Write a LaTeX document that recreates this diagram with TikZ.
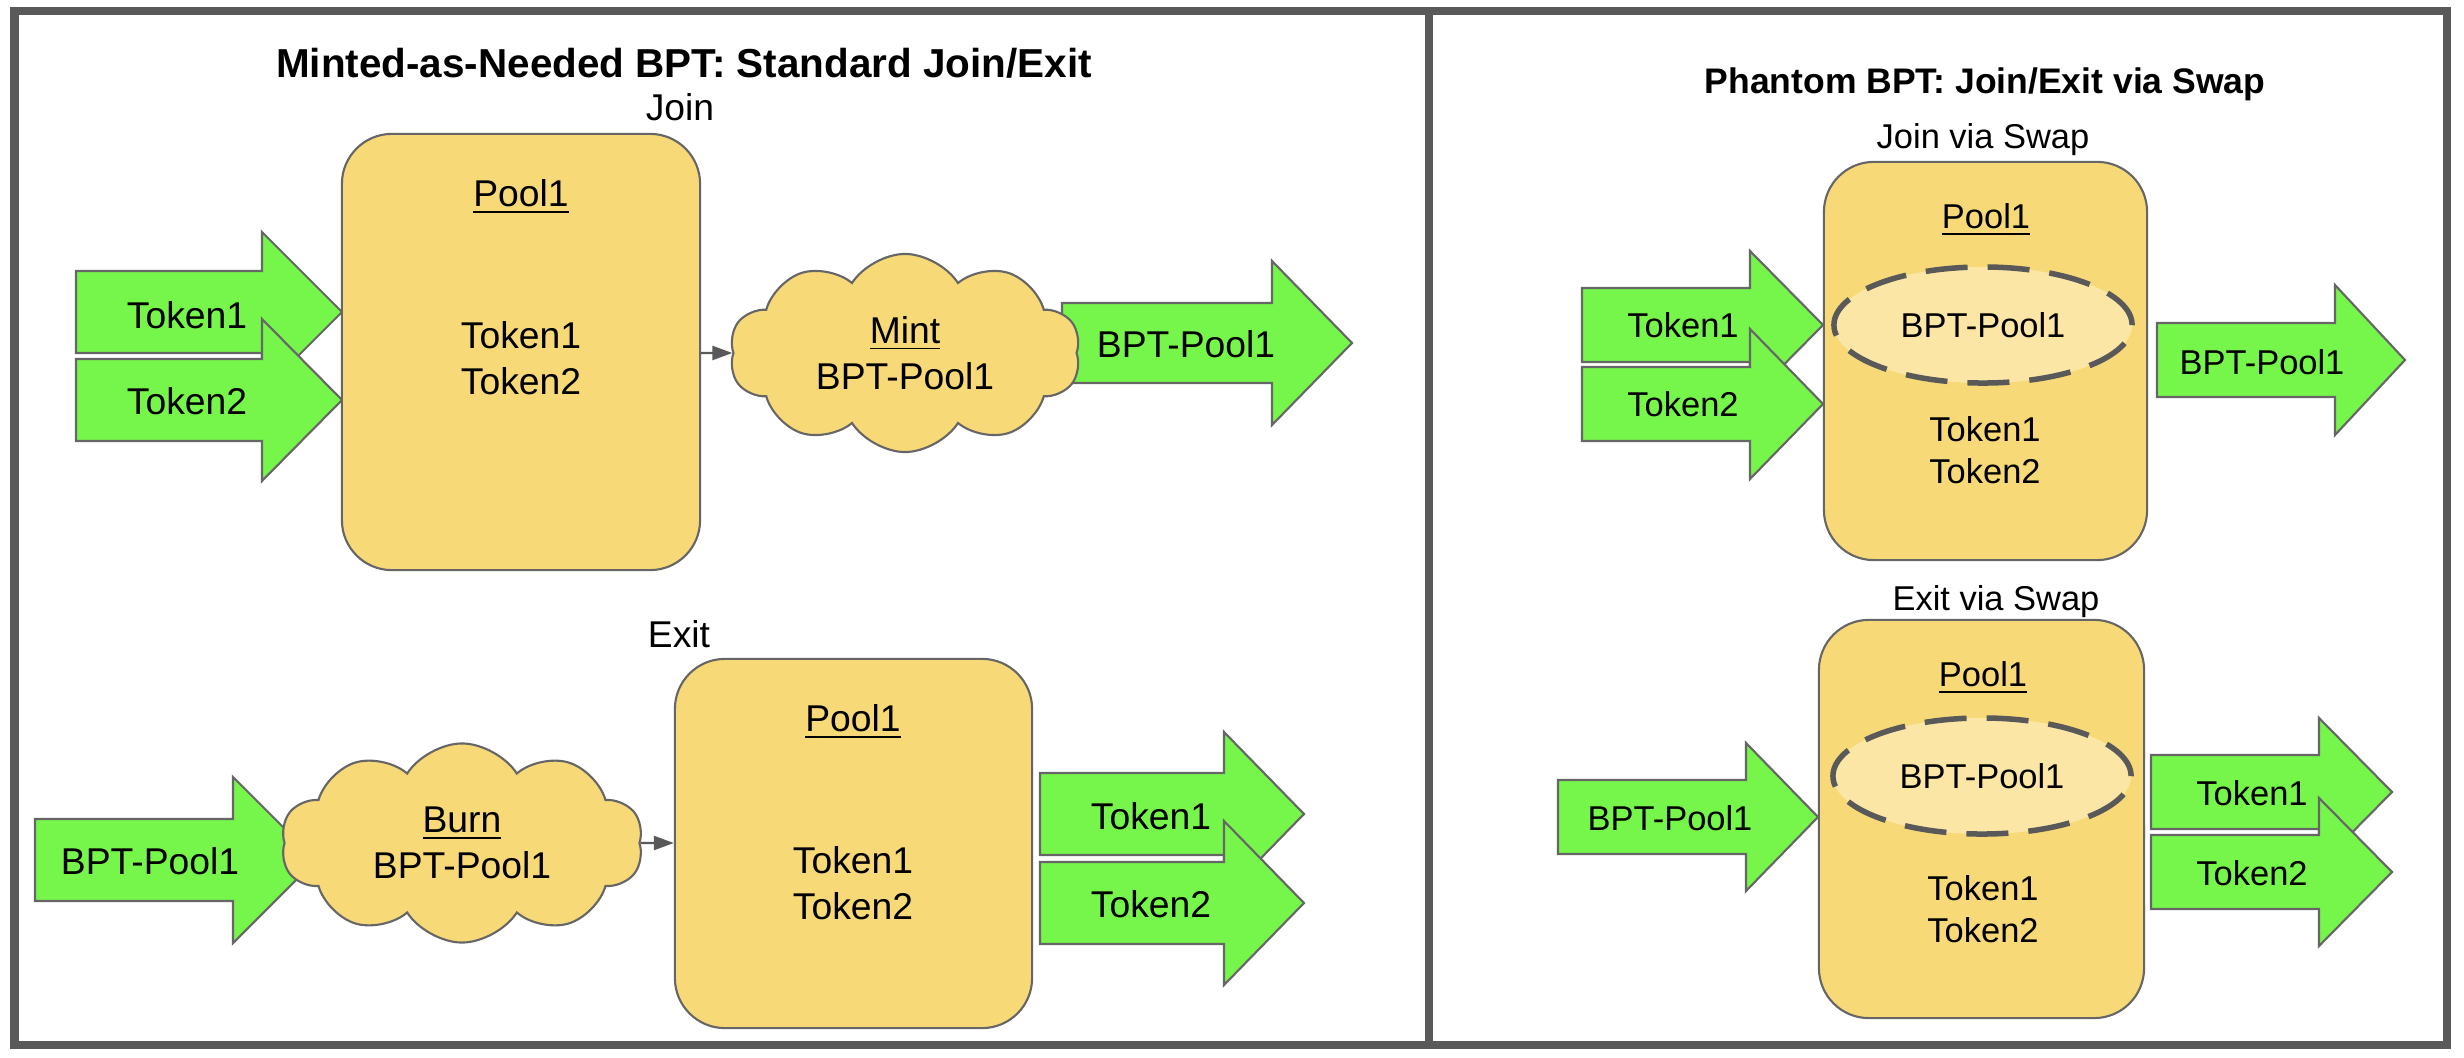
\documentclass[tikz,border=0pt]{standalone}
\usepackage{fontspec}
\setmainfont{Liberation Sans}
\usetikzlibrary{positioning,shapes.geometric,shapes.symbols,arrows.meta}
\definecolor{frameGray}{HTML}{595959}
\definecolor{edgeGray}{HTML}{666666}
\definecolor{tokGreen}{HTML}{76F64B}
\definecolor{poolYellow}{HTML}{F8D978}
\definecolor{bptYellow}{HTML}{FBE6A6}
\tikzset{
	panel/.style={draw=frameGray, line width=0.08cm, line join=miter},
	pool/.style={draw=edgeGray, fill=poolYellow, rounded corners=0.5cm, line width=0.6pt},
	fatarrow/.style={draw=edgeGray, fill=tokGreen, line width=0.6pt},
	puff/.style={cloud, cloud puffs=10, cloud puff arc=115, cloud ignores aspect,
		draw=edgeGray, fill=poolYellow, line width=0.6pt, align=center, inner sep=0pt,
		font=\fontsize{10.6}{13}\selectfont},
	bptoval/.style={ellipse, draw=frameGray, fill=bptYellow, line width=0.055cm,
		dash pattern=on 0.42cm off 0.2cm, inner sep=0pt, font=\fontsize{9.8}{11.9}\selectfont},
	link/.style={draw=frameGray, line width=0.7pt, -{Triangle[length=0.2cm,width=0.14cm]}},
	lbl/.style={inner sep=0pt, align=center, font=\fontsize{10.6}{13}\selectfont},
	rlbl/.style={inner sep=0pt, align=center, font=\fontsize{9.8}{11.9}\selectfont},
	ttl/.style={inner sep=0pt, font=\fontsize{11.5}{13}\selectfont\bfseries},
	rttl/.style={inner sep=0pt, font=\fontsize{10.1}{11}\selectfont\bfseries}
}
% block arrow: tail x, head base x, tip x, centre y, half shaft, half head
\newcommand{\tokarrow}[6]{%
	\filldraw[fatarrow] (#1,#4-#5) -- (#2,#4-#5) -- (#2,#4-#6) -- (#3,#4)
	-- (#2,#4+#6) -- (#2,#4+#5) -- (#1,#4+#5) -- cycle;}

\begin{document}
\begin{tikzpicture}[x=0.01cm, y=-0.01cm]
\useasboundingbox (0,0) rectangle (2464,1058);
\draw[panel] (14.5,11) rectangle (1429,1045);
\draw[panel] (1429,11) rectangle (2447,1045);

% minted-as-needed: join
\node[ttl] (ltitle) at (684,63) {Minted-as-Needed BPT: Standard Join/Exit};
\node[lbl] (jointxt) at (680,107) {Join};
\tokarrow{76}{262}{342}{312}{41}{80}
\node[lbl] (jin1) at (187,315) {Token1};
\tokarrow{76}{262}{342}{400}{41}{81}
\node[lbl] (jin2) at (187,401) {Token2};
\node[pool, minimum width=3.58cm, minimum height=4.36cm] (jpool) at (521,352) {};
\node[lbl] (jpname) at (521,197) {\underline{Pool1}};
\node[lbl] (jptok) at (521,358) {Token1\\Token2};
\tokarrow{1062}{1272}{1352}{343}{40}{82}
\node[puff, minimum width=3.51cm, minimum height=1.98cm] (mint) at (905,353) {\underline{Mint}\\BPT-Pool1};
\node[lbl] (jout) at (1186,344) {BPT-Pool1};
\draw[link] (jpool.east |- mint) -- (mint.west);

% minted-as-needed: exit
\node[lbl] (exittxt) at (679,634) {Exit};
\tokarrow{35}{233}{316}{860}{41}{83}
\node[lbl] (ein) at (150,861) {BPT-Pool1};
\node[puff, minimum width=3.62cm, minimum height=1.99cm] (burn) at (462,843) {\underline{Burn}\\BPT-Pool1};
\node[pool, minimum width=3.57cm, minimum height=3.69cm] (epool) at (853.5,843.5) {};
\node[lbl] (epname) at (853,722) {\underline{Pool1}};
\node[lbl] (eptok) at (853,883) {Token1\\Token2};
\draw[link] (burn.east) -- (epool.west |- burn);
\tokarrow{1040}{1224}{1304}{814}{41}{82}
\node[lbl] (eout1) at (1151,816) {Token1};
\tokarrow{1040}{1224}{1304}{903}{41}{82}
\node[lbl] (eout2) at (1151,904) {Token2};

% phantom: join via swap
\node[rttl] (rtitle) at (1985,84) {Phantom BPT: Join/Exit via Swap};
\node[rlbl] (jswap) at (1983,140) {Join via Swap};
\tokarrow{1582}{1750}{1823}{325}{37}{74}
\node[rlbl] (pjin1) at (1683,325) {Token1};
\tokarrow{1582}{1750}{1823}{404}{37}{75}
\node[rlbl] (pjin2) at (1683,404) {Token2};
\node[pool, minimum width=3.23cm, minimum height=3.98cm] (pjpool) at (1985.5,361) {};
\node[rlbl] (pjpname) at (1986,220) {\underline{Pool1}};
\node[bptoval, minimum width=2.98cm, minimum height=1.16cm] (pjbpt) at (1983,325) {BPT-Pool1};
\node[rlbl] (pjtok) at (1985,450) {Token1\\Token2};
\tokarrow{2157}{2335}{2405}{360}{37}{75}
\node[rlbl] (pjout) at (2262,362) {BPT-Pool1};

% phantom: exit via swap
\node[rlbl] (eswap) at (1996,602) {Exit via Swap};
\tokarrow{1558}{1746}{1818}{817}{37}{74}
\node[rlbl] (pein) at (1670,818) {BPT-Pool1};
\node[pool, minimum width=3.25cm, minimum height=3.98cm] (pepool) at (1981.5,819) {};
\node[rlbl] (pepname) at (1983,678) {\underline{Pool1}};
\node[bptoval, minimum width=2.98cm, minimum height=1.16cm] (pebpt) at (1982,776) {BPT-Pool1};
\node[rlbl] (petok) at (1983,909) {Token1\\Token2};
\tokarrow{2151}{2319}{2392}{792}{37}{74}
\node[rlbl] (peout1) at (2252,793) {Token1};
\tokarrow{2151}{2319}{2392}{872}{37}{74}
\node[rlbl] (peout2) at (2252,873) {Token2};
\end{tikzpicture}
\end{document}
